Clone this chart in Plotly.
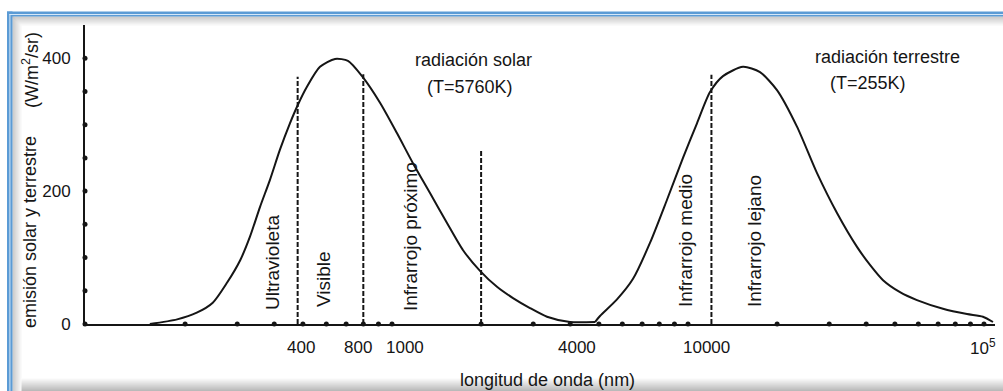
import math
import plotly.graph_objects as go

# ---------------- data ----------------
# solar emission curve (T=5760K): wavelength in nm, emission in W/m2/sr
solar_wavelength = [152, 188, 219, 248, 277, 307, 331, 358, 387, 418, 452, 481, 516, 571,
                    642, 710, 792, 911, 1040, 1177, 1344, 1534, 1738, 1983, 2263, 2563,
                    2925, 3339, 3994, 4852]
solar_emission = [0, 7, 17, 32, 62, 96, 131, 176, 217, 262, 302, 330, 357, 387,
                  399, 396, 373, 333, 287, 242, 197, 152, 111, 80, 56, 39,
                  24, 11, 3, 3]

# terrestrial emission curve (T=255K)
terrestrial_wavelength = [4852, 5043, 5756, 6521, 7439, 8494, 9618, 10725, 11867, 13126,
                          15339, 17509, 19983, 23346, 27285, 31873, 37236, 41200, 45597,
                          52030, 59372, 72679, 87613, 99217, 107250]
terrestrial_emission = [3, 12, 37, 68, 122, 187, 250, 302, 349, 373,
                        387, 379, 352, 297, 227, 167, 116, 89, 66,
                        48, 36, 23, 15, 11, 3]

# dashed band boundaries (nm) and the height they reach
boundary_wavelength = [480, 800, 2000, 12000]
boundary_top = [372, 376, 262, 375]

# axis ticks
x_tick_values = [400, 800, 1000, 4000, 10000, 100000]
x_tick_labels = ["400", "800", "1000", "4000", "10000", "10<sup>5</sup>"]
y_tick_values = [0, 200, 400]
x_minor_dots = [200, 300, 400, 500, 600, 700, 800, 900, 1000, 2000, 3000, 4000, 5000,
                6000, 7000, 8000, 9000, 10000, 20000, 30000, 40000, 50000, 60000,
                70000, 80000, 90000, 100000]
y_minor_dots = [0, 50, 100, 150, 200, 250, 300, 350, 400]

band_labels = ["Ultravioleta", "Visible", "Infrarrojo próximo",
               "Infrarrojo medio", "Infrarrojo lejano"]

# ---------------- layout constants ----------------
W, H = 1003, 391
L, R, T, B = 85, 8, 25, 67
X_LOG_RANGE = [1.9628, 5.0372]
Y_RANGE = [0, 450]
FONT = "Liberation Sans, Arial, sans-serif"
INK = "#151515"
X_LABEL_SHIFT = [27, -5, 13, 7, 18, -1]   # label nudges as drawn in the reference


def fx(px):
    return (px - L) / (W - L - R)


def fy(py):
    return (H - B - py) / (H - T - B)


fig = go.Figure()

line_style = dict(color=INK, width=2, shape="spline", smoothing=0.7)
fig.add_trace(go.Scatter(x=solar_wavelength, y=solar_emission, mode="lines",
                         line=line_style, name="radiación solar", cliponaxis=False))
fig.add_trace(go.Scatter(x=terrestrial_wavelength, y=terrestrial_emission, mode="lines",
                         line=line_style, name="radiación terrestre", cliponaxis=False))

for b, top in zip(boundary_wavelength, boundary_top):
    fig.add_trace(go.Scatter(x=[b, b], y=[0, top], mode="lines",
                             line=dict(color=INK, width=2, dash="5px,2px")))

# axis dots
fig.add_trace(go.Scatter(x=x_minor_dots, y=[0] * len(x_minor_dots), mode="markers",
                         marker=dict(color=INK, size=5), cliponaxis=False))
fig.add_trace(go.Scatter(x=[0] * len(y_minor_dots), y=y_minor_dots, mode="markers",
                         xaxis="x2", marker=dict(color=INK, size=5), cliponaxis=False))

annotations = []


def add_text(text, px, py, size, angle=0):
    annotations.append(dict(text=text, x=fx(px), y=fy(py), xref="paper", yref="paper",
                            xanchor="center", yanchor="middle", showarrow=False,
                            textangle=angle, font=dict(family=FONT, size=size, color=INK)))


add_text("radiación solar", 473, 60, 18)
add_text("(T=5760K)", 470, 87, 18)
add_text("radiación terrestre", 887, 57, 18)
add_text("(T=255K)", 868, 83, 18)

band_pos = [(272, 263), (323, 279), (410, 237), (685, 241), (754, 241)]
for txt, (px, py) in zip(band_labels, band_pos):
    add_text(txt, px, py, 19, -90)

add_text("emisión solar y terrestre", 30, 232, 18, -90)
add_text("(W/m<sup>2</sup>/sr)", 30, 70, 18, -90)
add_text("longitud de onda (nm)", 547, 380, 18)

# x tick labels, anchored on the log axis
for v, lab, sh in zip(x_tick_values, x_tick_labels, X_LABEL_SHIFT):
    annotations.append(dict(text=lab, x=math.log10(v), xref="x", y=fy(347), yref="paper",
                            xanchor="center", yanchor="middle", xshift=sh, showarrow=False,
                            font=dict(family=FONT, size=17, color=INK)))

# ---------------- frame decoration (blue border + soft shadow) ----------------
shapes = []
BLUE = "#5b9bd5"


def rect(x0, y0, x1, y1, color, layer="below"):
    shapes.append(dict(type="rect", xref="paper", yref="paper",
                       x0=fx(x0), x1=fx(x1), y0=fy(y0), y1=fy(y1),
                       fillcolor=color, line=dict(width=0), layer=layer))


for i in range(9):
    g = int(185 + i * 7.5)
    c = f"rgb({g},{g},{g})"
    rect(12.5 + i, 16.5 + i, 12.5 + i + 1, 391, c)
    rect(12.5 + i, 16.5 + i, 1003, 16.5 + i + 1, c)
for i in range(13):
    g = int(252 - i * 5.5)
    c = f"rgb({g},{g},{g})"
    rect(12.5 + 9, 378 + i, 1003, 379 + i, c)

rect(7, 11.5, 1003, 16.5, BLUE)
rect(7, 11.5, 12.5, 391, BLUE)
rect(9.4, 14.0, 1003, 15.0, "#d6e8f8")
rect(9.4, 14.0, 10.4, 391, "#d6e8f8")

fig.update_layout(
    width=W, height=H,
    margin=dict(l=L, r=R, t=T, b=B, pad=0),
    paper_bgcolor="white", plot_bgcolor="white",
    showlegend=False,
    annotations=annotations,
    shapes=shapes,
    font=dict(family=FONT, size=17, color=INK),
    xaxis=dict(type="log", range=X_LOG_RANGE, tickvals=x_tick_values,
               showticklabels=False, ticks="", showgrid=False, zeroline=False,
               showline=True, linecolor=INK, linewidth=2),
    xaxis2=dict(overlaying="x", range=[0, 1], visible=False, fixedrange=True),
    yaxis=dict(range=Y_RANGE, tickvals=y_tick_values, ticks="outside", ticklen=9,
               tickcolor="rgba(0,0,0,0)", showgrid=False, zeroline=False,
               showline=True, linecolor=INK, linewidth=2,
               tickfont=dict(family=FONT, size=17, color=INK)),
)

fig.write_html("out.html")
